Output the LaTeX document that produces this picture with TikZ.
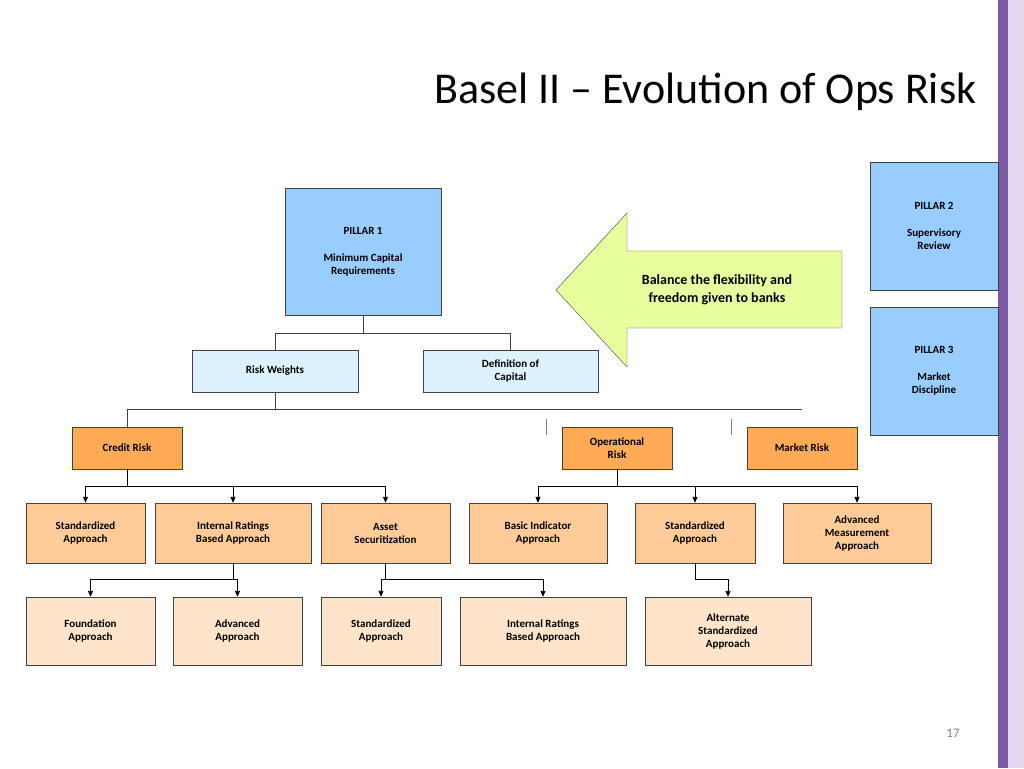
\documentclass[tikz,border=0pt]{standalone}
\usepackage{fontspec}
\setmainfont{Carlito}
\usetikzlibrary{arrows.meta}
\definecolor{pillarblue}{HTML}{99CCFF}
\definecolor{lightblue}{HTML}{DDF2FF}
\definecolor{riskorange}{HTML}{FFAA55}
\definecolor{midorange}{HTML}{FFCC99}
\definecolor{paleorange}{HTML}{FFE4CC}
\definecolor{arrowgreen}{HTML}{E8FFA0}
\definecolor{barpurple}{HTML}{7B5AA6}
\definecolor{barlilac}{HTML}{E2D8F0}
\begin{document}
\begin{tikzpicture}[x=1pt,y=-1pt,
box/.style={rectangle,draw=black!75,align=center,inner sep=0pt,font=\fontsize{11}{13}\selectfont\bfseries},
pillar/.style={box,fill=pillarblue},
capbox/.style={box,fill=lightblue},
riskbox/.style={box,fill=riskorange},
appbox/.style={box,fill=midorange},
subbox/.style={box,fill=paleorange},
conn/.style={line width=0.9pt},
arr/.style={conn,-{Triangle[length=6pt,width=5pt]}}]

\useasboundingbox (0,0) rectangle (1024,768);
\fill[white] (0,0) rectangle (1024,768);
% right side bar
\fill[barlilac] (1008,0) rectangle (1024,768);
\fill[barpurple] (998,0) rectangle (1008,768);

\node[font=\fontsize{44}{50}\selectfont,anchor=east] (title) at (980,92) {Basel II -- Evolution of Ops Risk};

% pillars
\node[pillar,minimum width=156pt,minimum height=127pt] (p1) at (363,251.5) {PILLAR 1\\[14pt]Minimum Capital\\Requirements};
\node[pillar,minimum width=128pt,minimum height=128pt] (p2) at (934,226) {PILLAR 2\\[14pt]Supervisory\\Review};
\node[pillar,minimum width=128pt,minimum height=128pt] (p3) at (934,371) {PILLAR 3\\[14pt]Market\\Discipline};

% big arrow
\draw[draw=black!75,fill=arrowgreen] (556,290) -- (627,213) -- (627,251) -- (842,251) -- (842,328) -- (627,328) -- (627,367) -- cycle;
\node[font=\fontsize{14}{18}\selectfont\bfseries,align=center] (note) at (717,290) {Balance the flexibility and\\freedom given to banks};

% capital
\node[capbox,minimum width=166pt,minimum height=42pt] (rw) at (275,371) {Risk Weights};
\node[capbox,minimum width=175pt,minimum height=42pt] (dc) at (510.5,371) {Definition of\\Capital};

% risks
\node[riskbox,minimum width=110pt,minimum height=42pt] (cr) at (127,448) {Credit Risk};
\node[riskbox,minimum width=110pt,minimum height=42pt] (or) at (617,448) {Operational\\Risk};
\node[riskbox,minimum width=110pt,minimum height=42pt] (mr) at (802,448) {Market Risk};

% approaches
\node[appbox,minimum width=119pt,minimum height=60pt] (sa) at (85.5,533) {Standardized\\Approach};
\node[appbox,minimum width=156pt,minimum height=60pt] (irb) at (233,533) {Internal Ratings\\Based Approach};
\node[appbox,minimum width=129pt,minimum height=60pt] (as) at (385.5,533) {Asset\\Securitization};
\node[appbox,minimum width=138pt,minimum height=60pt] (bia) at (538,533) {Basic Indicator\\Approach};
\node[appbox,minimum width=120pt,minimum height=60pt] (so) at (695,533) {Standardized\\Approach};
\node[appbox,minimum width=148pt,minimum height=60pt] (ama) at (857,533) {Advanced\\Measurement\\Approach};

% sub approaches
\node[subbox,minimum width=129pt,minimum height=68pt] (fa) at (90.5,631) {Foundation\\Approach};
\node[subbox,minimum width=129pt,minimum height=68pt] (aa) at (237.5,631) {Advanced\\Approach};
\node[subbox,minimum width=120pt,minimum height=68pt] (sas) at (381,631) {Standardized\\Approach};
\node[subbox,minimum width=166pt,minimum height=68pt] (irbs) at (543,631) {Internal Ratings\\Based Approach};
\node[subbox,minimum width=166pt,minimum height=68pt] (alt) at (728,631) {Alternate\\Standardized\\Approach};

\node[text=black!50,font=\fontsize{13}{15}\selectfont] (pg) at (953,733) {17};

% connectors
\draw[conn,black!75] (p1.south) -- ++(0,18) -| (rw.north);
\draw[conn,black!75] (p1.south) ++(0,18) -| (dc.north);
\coordinate (bus) at (802,409);
\draw[conn,black!75] (rw.south) -- (rw.south |- bus);
\draw[conn,black!75] (cr.north) -- (cr.north |- bus) -- (bus);
\draw[line width=0.8pt,black!50] (546,419) -- (546,435) (731,419) -- (731,435);

\draw[conn] (cr.south) -- ++(0,17);
\foreach \t in {sa,irb,as} \draw[arr] (cr.south) ++(0,17) -| (\t.north);
\draw[conn] (or.south) -- ++(0,17);
\foreach \t in {bia,so,ama} \draw[arr] (or.south) ++(0,17) -| (\t.north);
\draw[conn] (irb.south) -- ++(0,16);
\foreach \t in {fa,aa} \draw[arr] (irb.south) ++(0,16) -| (\t.north);
\draw[conn] (as.south) -- ++(0,16);
\foreach \t in {sas,irbs} \draw[arr] (as.south) ++(0,16) -| (\t.north);
\draw[arr] (so.south) -- ++(0,16) -| (alt.north);
\end{tikzpicture}
\end{document}
